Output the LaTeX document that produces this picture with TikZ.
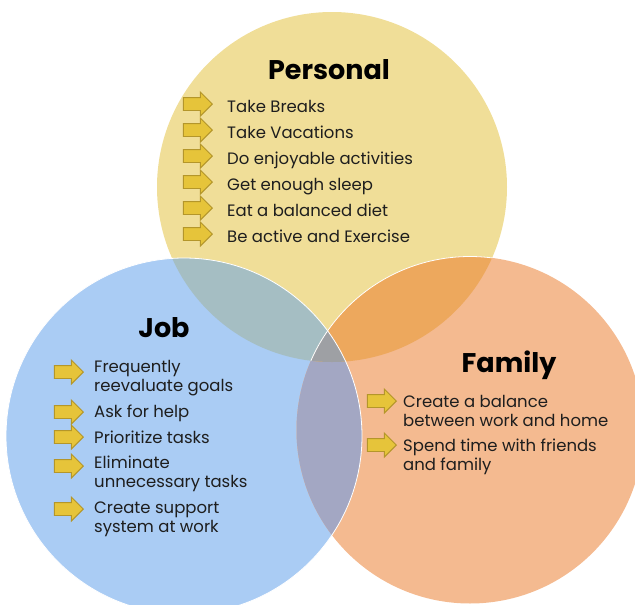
\documentclass[tikz,border=0pt]{standalone}
\usepackage{fontspec}
\setmainfont{Poppins}
\usetikzlibrary{positioning,shapes.arrows}

\definecolor{perfill}{HTML}{F0DE98}
\definecolor{jobfill}{HTML}{AACCF4}
\definecolor{famfill}{HTML}{F4BA90}
\definecolor{pjfill}{HTML}{A5BEC3}
\definecolor{pffill}{HTML}{EDA85D}
\definecolor{jffill}{HTML}{A3A7C3}
\definecolor{allfill}{HTML}{9EA0A4}
\definecolor{arrfill}{HTML}{E6C43A}
\definecolor{arrline}{HTML}{B4962A}
\definecolor{itemtext}{HTML}{1E1E1E}

\begin{document}
\begin{tikzpicture}[x=1pt,y=-1pt,
                    every node/.style={inner sep=0pt},
                    title/.style={font=\fontsize{27}{30}\selectfont\bfseries,anchor=base},
                    item/.style={font=\fontsize{16.5}{19}\selectfont,text=itemtext,anchor=base west,align=left},
                    arr/.style={single arrow,draw=arrline,fill=arrfill,line width=0.9pt,
                                minimum height=29pt,minimum width=23pt,single arrow head extend=5.5pt,
                                inner xsep=0pt,inner ysep=6pt}]

\clip (0,0) rectangle (635,605);

\coordinate (cp) at (332,187);
\coordinate (cj) at (184,436);
\coordinate (cf) at (470,430);

% the three circles
\fill[perfill] (cp) circle[radius=175];
\fill[jobfill] (cj) circle[radius=178];
\fill[famfill] (cf) circle[radius=173.5];

% overlaps
\begin{scope}
  \clip (cj) circle[radius=178];
  \fill[jffill] (cf) circle[radius=173.5];
\end{scope}
\begin{scope}
  \clip (cp) circle[radius=175];
  \fill[pjfill] (cj) circle[radius=178];
  \fill[pffill] (cf) circle[radius=173.5];
  \clip (cj) circle[radius=178];
  \fill[allfill] (cf) circle[radius=173.5];
\end{scope}
\draw[white,line width=0.8pt] (cj) circle[radius=178];
\begin{scope}
  \clip (cp) circle[radius=175];
  \draw[white,line width=0.8pt] (cf) circle[radius=173.5];
\end{scope}

% Personal
\node[title] (per) at (329,79) {Personal};
\node[item] (p1) at (227,112) {Take Breaks};
\node[item] (p2) at (227,138) {Take Vacations};
\node[item] (p3) at (227,164) {Do enjoyable activities};
\node[item] (p4) at (227,190) {Get enough sleep};
\node[item] (p5) at (227,216) {Eat a balanced diet};
\node[item] (p6) at (227,242) {Be active and Exercise};
\node[arr,left=14pt of p1.base west,yshift=8pt] (pa1) {};
\node[arr,left=14pt of p2.base west,yshift=8pt] (pa2) {};
\node[arr,left=14pt of p3.base west,yshift=8pt] (pa3) {};
\node[arr,left=14pt of p4.base west,yshift=8pt] (pa4) {};
\node[arr,left=14pt of p5.base west,yshift=8pt] (pa5) {};
\node[arr,left=14pt of p6.base west,yshift=8pt] (pa6) {};

% Job (base of a two-line item is its last line)
\node[title] (job) at (164,337) {Job};
\node[item] (j1) at (94,391) {Frequently\\reevaluate goals};
\node[item] (j2) at (94,417) {Ask for help};
\node[item] (j3) at (94,443) {Prioritize tasks};
\node[item] (j4) at (94,487) {Eliminate\\unnecessary tasks};
\node[item] (j5) at (94,532) {Create support\\system at work};
\node[arr,left=10pt of j1.base west,yshift=19pt] (ja1) {};
\node[arr,left=10pt of j2.base west,yshift=5pt] (ja2) {};
\node[arr,left=10pt of j3.base west,yshift=6pt] (ja3) {};
\node[arr,left=10pt of j4.base west,yshift=21pt] (ja4) {};
\node[arr,left=10pt of j5.base west,yshift=23pt] (ja5) {};

% Family
\node[title] (fam) at (509,372) {Family};
\node[item] (f1) at (403,426) {Create a balance\\between work and home};
\node[item] (f2) at (403,470) {Spend time with friends\\and family};
\node[arr,left=6pt of f1.base west,yshift=25pt] (fa1) {};
\node[arr,left=6pt of f2.base west,yshift=25pt] (fa2) {};

\end{tikzpicture}
\end{document}
